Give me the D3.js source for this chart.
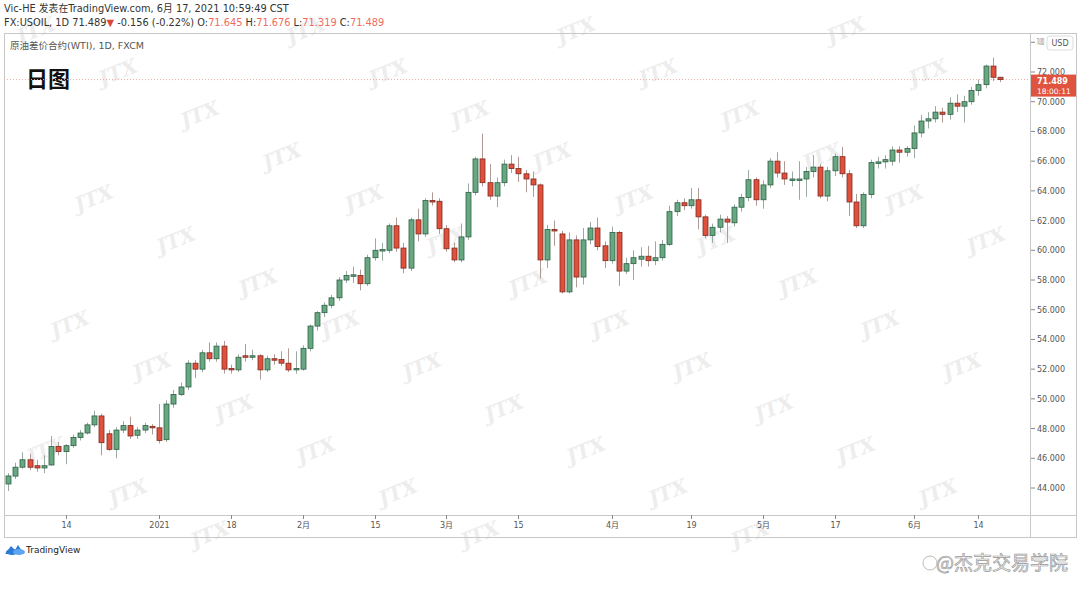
<!DOCTYPE html>
<html><head><meta charset="utf-8">
<script src="https://cdn.jsdelivr.net/npm/d3@7"></script>
<style>
body{margin:0;background:#fff;}
svg{display:block;font-family:"DejaVu Sans","Noto Sans CJK SC",sans-serif;}
</style>
</head><body>
<svg id="chart" width="1080" height="600"></svg>
<script>
// ---------- DATA ----------
const dates = [
"2020-12-02","2020-12-03","2020-12-04","2020-12-07","2020-12-08","2020-12-09","2020-12-10","2020-12-11",
"2020-12-14","2020-12-15","2020-12-16","2020-12-17","2020-12-18","2020-12-21","2020-12-22","2020-12-23",
"2020-12-24","2020-12-28","2020-12-29","2020-12-30","2020-12-31",
"2021-01-04","2021-01-05","2021-01-06","2021-01-07","2021-01-08","2021-01-11","2021-01-12","2021-01-13",
"2021-01-14","2021-01-15","2021-01-18","2021-01-19","2021-01-20","2021-01-21","2021-01-22","2021-01-25",
"2021-01-26","2021-01-27","2021-01-28","2021-01-29",
"2021-02-01","2021-02-02","2021-02-03","2021-02-04","2021-02-05","2021-02-08","2021-02-09","2021-02-10",
"2021-02-11","2021-02-12","2021-02-15","2021-02-16","2021-02-17","2021-02-18","2021-02-19","2021-02-22",
"2021-02-23","2021-02-24","2021-02-25","2021-02-26",
"2021-03-01","2021-03-02","2021-03-03","2021-03-04","2021-03-05","2021-03-08","2021-03-09","2021-03-10",
"2021-03-11","2021-03-12","2021-03-15","2021-03-16","2021-03-17","2021-03-18","2021-03-19","2021-03-22",
"2021-03-23","2021-03-24","2021-03-25","2021-03-26","2021-03-29","2021-03-30","2021-03-31",
"2021-04-01","2021-04-05","2021-04-06","2021-04-07","2021-04-08","2021-04-09","2021-04-12","2021-04-13",
"2021-04-14","2021-04-15","2021-04-16","2021-04-19","2021-04-20","2021-04-21","2021-04-22","2021-04-23",
"2021-04-26","2021-04-27","2021-04-28","2021-04-29","2021-04-30",
"2021-05-03","2021-05-04","2021-05-05","2021-05-06","2021-05-07","2021-05-10","2021-05-11","2021-05-12",
"2021-05-13","2021-05-14","2021-05-17","2021-05-18","2021-05-19","2021-05-20","2021-05-21","2021-05-24",
"2021-05-25","2021-05-26","2021-05-27","2021-05-28","2021-05-31",
"2021-06-01","2021-06-02","2021-06-03","2021-06-04","2021-06-07","2021-06-08","2021-06-09","2021-06-10",
"2021-06-11","2021-06-14","2021-06-15","2021-06-16","2021-06-17"
];
const openP = [
44.27,44.8,45.4,45.9,45.5,45.35,45.55,46.8,46.45,46.85,47.4,47.7,48.25,48.85,47.65,46.6,47.9,48.2,47.55,47.9,48.15,
48.05,47.25,49.65,50.3,50.8,52.4,52.0,53.1,52.7,53.55,52.05,51.95,52.9,52.85,52.9,51.95,52.7,52.65,52.4,51.95,
52.0,53.4,54.9,55.8,56.3,56.8,58.0,58.3,58.3,57.75,59.5,60.0,60.0,61.65,60.15,58.8,62.05,61.1,63.35,63.3,
61.45,60.15,59.35,60.9,63.9,66.15,64.55,63.65,64.55,65.8,65.5,65.15,64.8,64.4,59.35,61.4,61.1,57.2,60.7,58.2,60.7,61.5,60.3,
59.3,61.2,58.6,59.1,59.4,59.6,59.3,59.5,60.4,62.6,63.2,63.0,63.4,62.25,61.0,61.55,62.1,61.85,62.9,63.55,64.75,
63.4,64.4,66.0,65.2,64.75,64.75,64.8,65.3,65.6,63.65,65.35,66.3,65.15,63.25,61.65,63.75,65.9,65.95,66.0,66.75,66.6,
66.85,67.9,68.7,68.85,69.3,69.15,69.9,69.7,70.0,70.75,71.15,72.4,71.645
];
const highP = [
45.0,45.7,46.4,46.3,45.9,46.2,47.5,47.1,46.95,47.6,47.9,48.4,49.2,49.0,47.9,48.1,48.5,48.8,48.1,48.4,48.3,
49.65,49.9,50.6,51.1,52.6,52.6,53.3,53.8,53.8,53.9,52.3,53.0,53.7,53.3,53.0,52.9,53.0,53.2,53.4,53.2,
53.6,55.0,55.9,56.5,57.0,58.2,58.6,58.9,58.7,59.7,60.8,60.5,61.8,62.2,60.5,62.2,62.8,63.5,63.9,63.5,
61.7,60.5,61.8,64.5,66.3,67.85,65.8,64.9,66.1,66.4,66.3,65.4,65.3,64.5,61.7,62.0,61.3,61.2,61.0,61.5,61.9,62.2,60.6,
61.6,61.3,59.5,60.0,60.2,60.3,60.6,60.7,63.0,63.4,63.5,64.2,64.2,62.4,61.8,62.4,62.3,63.1,63.8,65.4,64.9,
64.7,66.2,66.6,66.0,65.3,66.0,65.6,66.4,65.8,65.6,66.5,66.95,65.4,63.8,63.9,66.1,66.3,66.4,67.0,67.0,67.0,
68.4,69.1,69.3,69.7,69.6,70.3,70.5,70.4,71.0,71.5,72.5,72.96,71.676
];
const lowP = [
43.8,44.6,45.3,45.2,45.1,45.0,45.5,46.2,45.6,46.7,47.2,47.6,48.1,46.2,46.5,46.0,47.7,47.3,47.3,47.7,47.6,
47.0,47.1,49.4,50.2,50.6,51.4,51.8,52.5,52.5,51.7,51.7,51.8,52.5,52.6,51.3,51.8,52.3,52.2,51.8,51.7,
51.9,53.2,54.6,55.5,56.1,56.6,57.8,57.8,57.3,57.6,59.3,59.3,59.8,59.9,58.45,58.6,60.6,60.9,63.0,61.1,
59.9,59.2,59.2,60.7,63.7,64.3,63.4,62.9,64.3,65.2,64.6,63.9,63.6,58.1,58.8,60.3,57.1,57.1,57.5,57.7,60.4,60.0,58.8,
59.1,57.6,58.4,58.0,58.9,58.9,59.0,59.3,60.3,62.3,62.7,62.8,61.4,60.8,60.5,61.2,60.5,61.6,62.6,63.3,63.0,
62.8,64.2,64.9,64.4,64.3,63.4,63.6,64.9,63.5,63.3,65.0,64.9,62.3,61.5,61.5,63.5,65.5,65.5,65.7,65.9,66.3,
66.2,67.6,68.2,68.6,68.6,68.8,69.3,68.6,69.8,70.4,70.9,71.4,71.319
];
const closeP = [
44.81,45.4,45.9,45.4,45.35,45.5,46.8,46.45,46.85,47.4,47.7,48.25,48.85,47.05,46.6,47.9,48.2,47.5,47.9,48.2,48.1,
47.2,49.65,50.3,50.8,52.4,52.0,53.1,52.7,53.55,52.0,51.95,52.8,52.85,52.9,51.95,52.7,52.6,52.4,51.95,52.05,
53.4,54.9,55.8,56.3,56.8,58.0,58.3,58.35,57.75,59.5,60.0,60.05,61.65,60.15,58.8,62.05,61.1,63.35,63.3,61.45,
60.1,59.35,60.9,63.9,66.15,64.55,63.65,64.55,65.8,65.5,65.15,64.8,64.4,59.35,61.4,61.3,57.2,60.7,58.2,60.7,61.5,60.25,59.3,
61.2,58.6,59.1,59.5,59.6,59.3,59.5,60.4,62.6,63.2,63.0,63.4,62.25,61.0,61.55,62.1,61.9,62.9,63.55,64.75,63.4,
64.4,66.0,65.2,64.8,64.8,64.8,65.3,65.6,63.65,65.35,66.3,65.15,63.25,61.65,63.75,65.9,65.95,66.1,66.75,66.6,66.85,
67.9,68.7,68.85,69.3,69.15,69.9,69.7,70.0,70.75,71.15,72.4,71.645,71.489
];
const priceTicks = [44,46,48,50,52,54,56,58,60,62,64,66,68,70,72,74];
const timeTickDates  = ["2020-12-14","2021-01-04","2021-01-18","2021-02-01","2021-02-15","2021-03-01","2021-03-15","2021-04-01","2021-04-19","2021-05-03","2021-05-17","2021-06-01","2021-06-14"];
const timeTickLabels = ["14","2021","18","2月","15","3月","15","4月","19","5月","17","6月","14"];
const lastPrice = 71.489;
const lastPriceLabel = "71.489";
const countdownLabel = "18:00:11";
const headerLine1 = "Vic-HE 发表在TradingView.com, 6月 17, 2021 10:59:49 CST";
const seriesTitle = "原油差价合约(WTI), 1D, FXCM";
const chartNote = "日图";

// ---------- LAYOUT ----------
const svg = d3.select("#chart");
const paneL = 4, paneR = 1030, paneT = 33, paneB = 515, outerR = 1076, outerB = 537;

const x = d3.scalePoint().domain(dates).range([8, 1000]);
const y = d3.scaleLinear().domain([44, 72]).range([488, 72]);

// watermarks (decoration)
const wm = svg.append("g").attr("fill", "#ededed").attr("font-size", 20)
  .attr("font-style", "italic").attr("font-weight", "bold").attr("font-family", "DejaVu Serif, serif");
for (let r = 0; r < 14; r++) {
  for (let c = -1; c < 5; c++) {
    const px = c * 270 + ((r * 82) % 270) + 20;
    const py = 44 + r * 42;
    if (px < 12 || px > 975 || py > 585) continue;
    wm.append("text").attr("x", px).attr("y", py)
      .attr("transform", `rotate(-22 ${px} ${py})`).text("JTX");
  }
}

// header
const hdr = svg.append("g").attr("font-size", 9.8).attr("fill", "#333");
hdr.append("text").attr("x", 4).attr("y", 12).text(headerLine1);
const l2 = hdr.append("text").attr("x", 4).attr("y", 26);
const seg = [["FX:USOIL, 1D 71.489", "#333"], ["▼", "#e0453a"], [" -0.156 (-0.22%) O:", "#333"], ["71.645", "#ef6b60"],
  [" H:", "#333"], ["71.676", "#ef6b60"], [" L:", "#333"], ["71.319", "#ef6b60"], [" C:", "#333"], ["71.489", "#ef6b60"]];
seg.forEach(s => l2.append("tspan").attr("fill", s[1]).text(s[0]));

// pane frame
const frame = svg.append("g").attr("stroke", "#c8c8c8").attr("fill", "none").attr("shape-rendering", "crispEdges");
frame.append("rect").attr("x", paneL + 0.5).attr("y", paneT + 0.5).attr("width", outerR - paneL).attr("height", outerB - paneT);
frame.append("line").attr("x1", paneR + 0.5).attr("x2", paneR + 0.5).attr("y1", paneT).attr("y2", outerB);
frame.append("line").attr("x1", paneL).attr("x2", outerR).attr("y1", paneB + 0.5).attr("y2", paneB + 0.5);

// series title + note
svg.append("text").attr("x", 10).attr("y", 49).attr("font-size", 9.5).attr("fill", "#555").text(seriesTitle);
svg.append("text").attr("x", 26).attr("y", 87).attr("font-size", 22).attr("font-weight", "bold")
  .attr("font-family", "Noto Sans CJK SC, sans-serif").attr("fill", "#111").text(chartNote);

// last price dotted line
svg.append("line").attr("x1", paneL).attr("x2", paneR).attr("y1", y(lastPrice)).attr("y2", y(lastPrice))
  .attr("stroke", "#f0a8a0").attr("stroke-width", 1).attr("stroke-dasharray", "1,2");

// candles
const upFill = "#67a880", upStroke = "#2f5f45", dnFill = "#e0513d", dnStroke = "#7e2a1f";
const candles = svg.append("g");
dates.forEach((d, i) => {
  const o = openP[i], c = closeP[i], h = highP[i], l = lowP[i];
  const up = c >= o;
  const cx = Math.round(x(d)) + 0.5;
  candles.append("line").attr("x1", cx).attr("x2", cx).attr("y1", y(h)).attr("y2", y(l))
    .attr("stroke", up ? "#9aaaa0" : "#b09a96").attr("stroke-width", 1);
  const top = y(Math.max(o, c)), bot = y(Math.min(o, c));
  candles.append("rect").attr("x", cx - 2.5).attr("y", top).attr("width", 5).attr("height", Math.max(1.5, bot - top))
    .attr("fill", up ? upFill : dnFill).attr("stroke", up ? upStroke : dnStroke).attr("stroke-width", 0.8);
});

// price axis
const pa = svg.append("g").attr("font-size", 8).attr("fill", "#555");
priceTicks.forEach(p => {
  const yy = y(p);
  pa.append("line").attr("x1", paneR + 1).attr("x2", paneR + 5).attr("y1", yy).attr("y2", yy).attr("stroke", "#888");
  if (p === 74) {
    // top label is mostly hidden behind the USD badge
    pa.append("text").attr("x", paneR + 7).attr("y", yy + 3).text(d3.format(".3f")(p))
      .attr("textLength", 7).attr("lengthAdjust", "spacingAndGlyphs");
  } else {
    pa.append("text").attr("x", paneR + 7).attr("y", yy + 3).text(d3.format(".3f")(p));
  }
});
// USD badge
svg.append("rect").attr("x", 1047).attr("y", 36).attr("width", 26).attr("height", 14).attr("rx", 3)
  .attr("fill", "#fff").attr("stroke", "#ddd");
svg.append("text").attr("x", 1060).attr("y", 46).attr("text-anchor", "middle").attr("font-size", 8).attr("fill", "#555").text("USD");

// last price label
svg.append("rect").attr("x", paneR + 1).attr("y", y(lastPrice) - 5).attr("width", 45).attr("height", 22)
  .attr("fill", "#e0533e");
svg.append("text").attr("x", paneR + 7).attr("y", y(lastPrice) + 4).attr("font-size", 8).attr("font-weight", "bold")
  .attr("fill", "#fff").text(lastPriceLabel);
svg.append("text").attr("x", paneR + 7).attr("y", y(lastPrice) + 14).attr("font-size", 7.5)
  .attr("fill", "#fff").text(countdownLabel);

// time axis
const ta = svg.append("g").attr("font-size", 8).attr("fill", "#555").attr("text-anchor", "middle");
timeTickDates.forEach((d, i) => {
  const xx = Math.round(x(d)) + 0.5;
  ta.append("line").attr("x1", xx).attr("x2", xx).attr("y1", paneB).attr("y2", paneB + 4).attr("stroke", "#888");
  ta.append("text").attr("x", xx).attr("y", paneB + 13).text(timeTickLabels[i]);
});

// TradingView logo
const logo = svg.append("g").attr("transform", "translate(5,543)");
logo.append("path").attr("d", "M0,11 L6,3 L10,7 L13,2 L19,11 Z").attr("fill", "#2e7bd6");
logo.append("ellipse").attr("cx", 7).attr("cy", 9).attr("rx", 6).attr("ry", 3).attr("fill", "#2e7bd6");
logo.append("ellipse").attr("cx", 14).attr("cy", 9).attr("rx", 6).attr("ry", 3).attr("fill", "#5ea4f0");
svg.append("text").attr("x", 26).attr("y", 553).attr("font-size", 9).attr("fill", "#222").text("TradingView");

// bottom-right watermark
svg.append("text").attr("x", 1068).attr("y", 570).attr("text-anchor", "end").attr("font-size", 19)
  .attr("font-family", "Noto Sans CJK SC, sans-serif").attr("fill", "#f4f4f4").attr("stroke", "#9a9a9a")
  .attr("stroke-width", 0.7).text("@杰克交易学院");
svg.append("circle").attr("cx", 930).attr("cy", 563).attr("r", 7).attr("fill", "none").attr("stroke", "#bbb");
</script>
</body></html>
